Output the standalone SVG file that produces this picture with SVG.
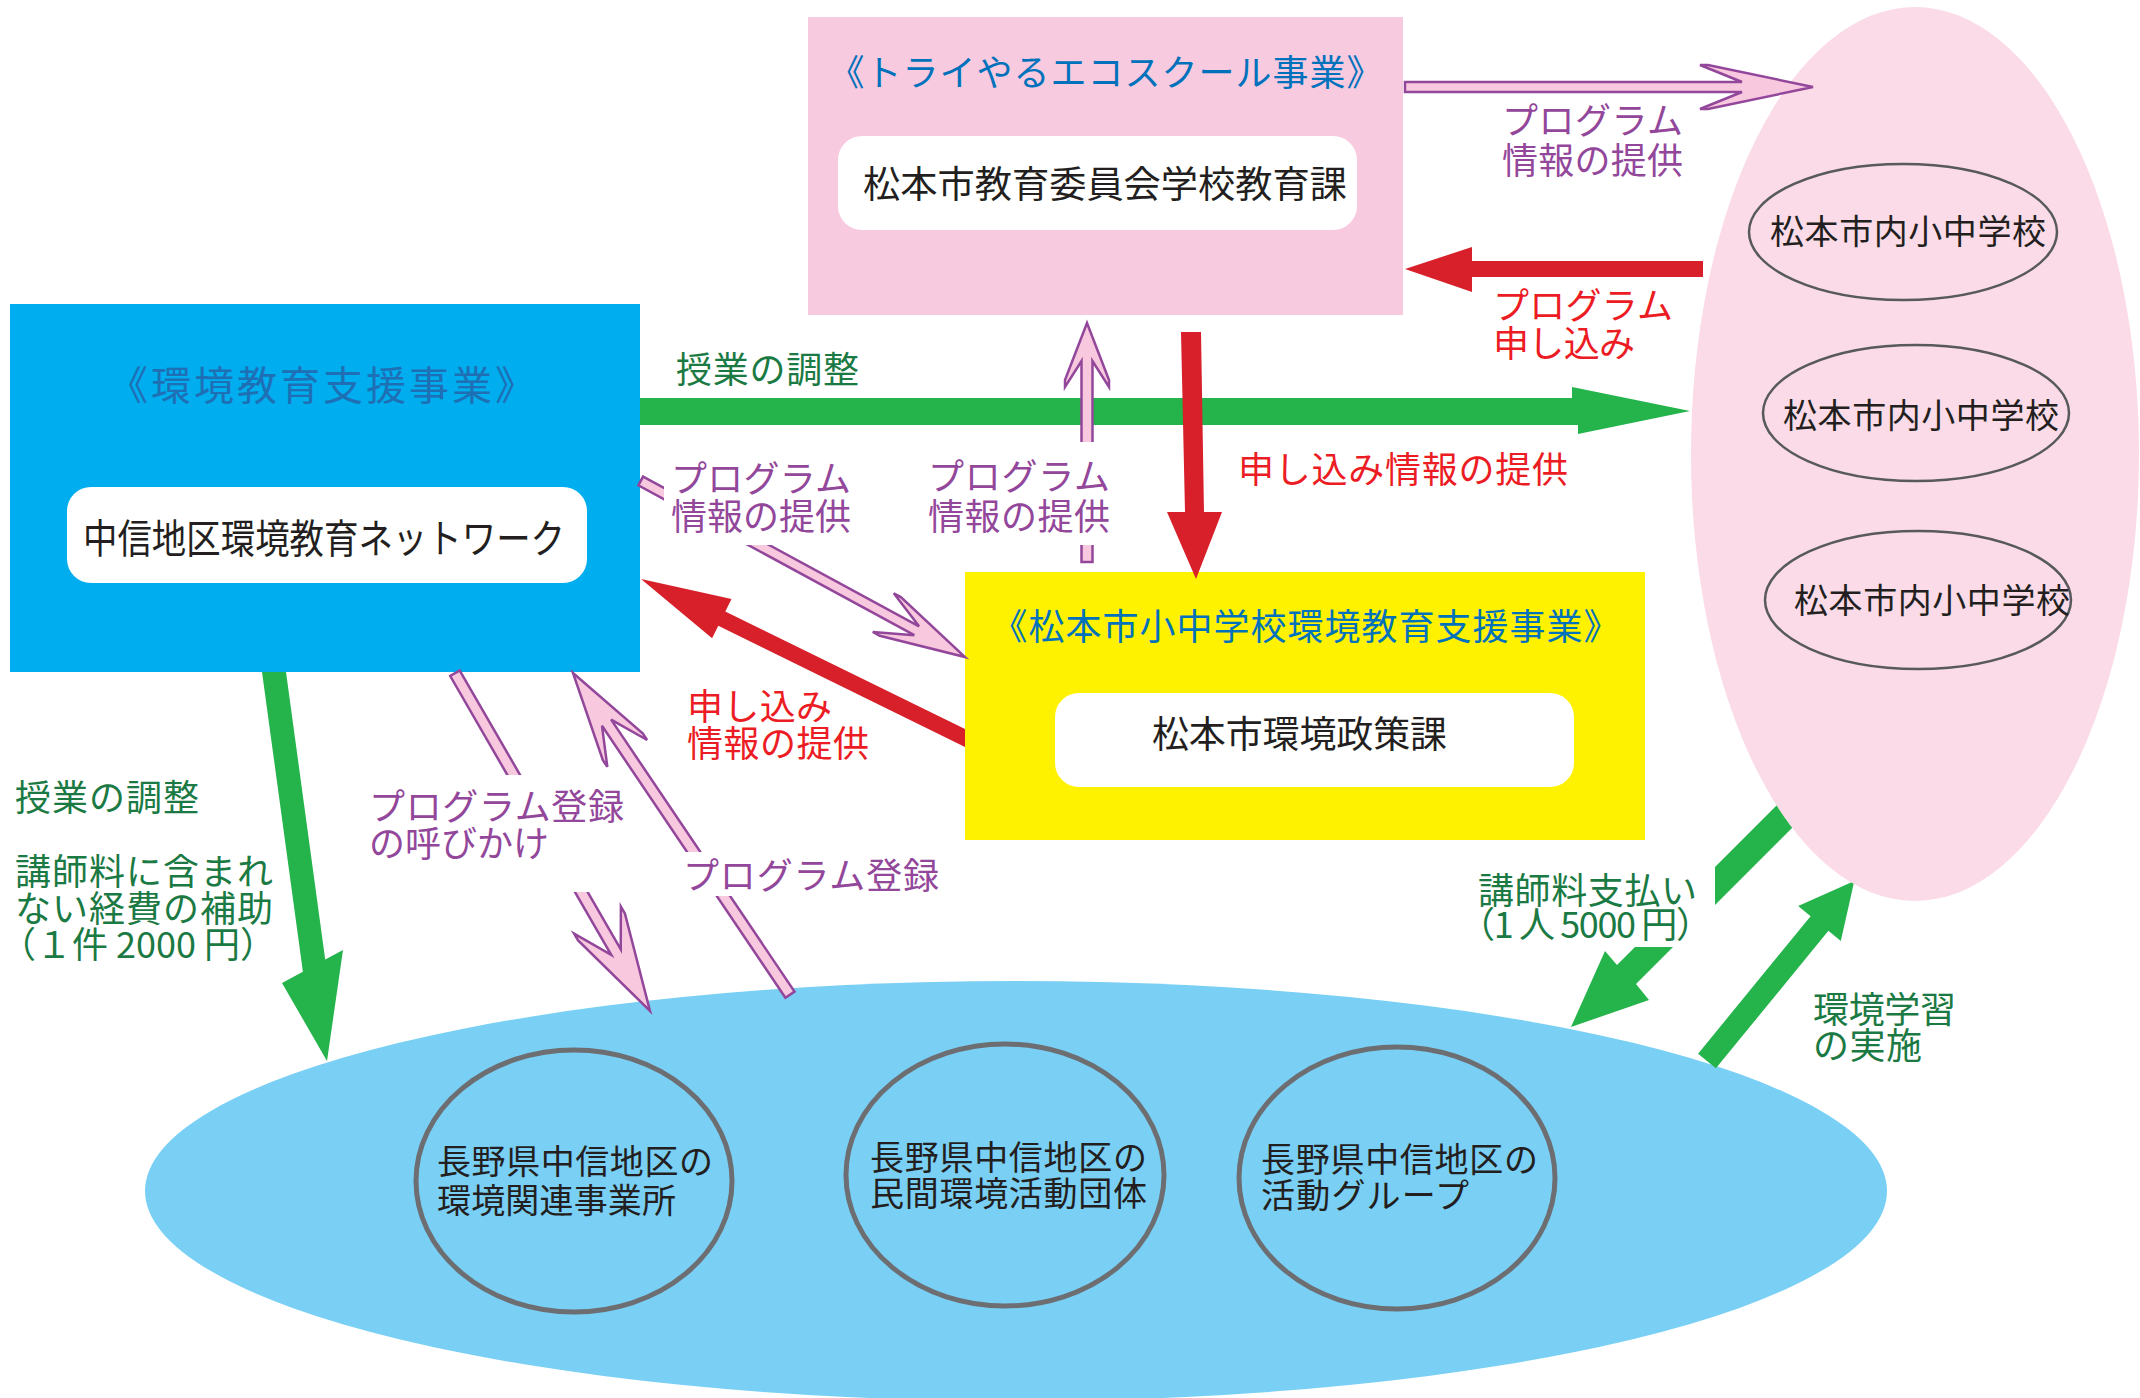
<svg xmlns="http://www.w3.org/2000/svg" width="2140" height="1398" viewBox="0 0 2140 1398">
<style>
text{font-family:'Noto Sans CJK JP','Noto Sans CJK SC',sans-serif;}
.node{fill:#231f20;}
.ttl{fill:#0072bc;}
.g{fill:#1b7a43;font-size:36px;}
.p{fill:#93479b;font-size:36px;}
.r{fill:#ec1c24;font-size:36px;}
.wb{fill:#ffffff;}
.pa{fill:#f8c8de;stroke:#93479b;stroke-width:2.5;stroke-linejoin:miter;}
.ga{fill:#25b34b;}
.ra{fill:#d7202a;}
.sch{fill:none;stroke:#58595b;stroke-width:2.5;}
.grp{fill:none;stroke:#6d6e71;stroke-width:5;}
</style>
<defs>
<mask id="outPink" maskUnits="userSpaceOnUse" x="0" y="0" width="2140" height="1398">
<rect x="0" y="0" width="2140" height="1398" fill="#ffffff"/>
<ellipse cx="1915" cy="454" rx="224" ry="447" fill="#000000"/>
</mask>
</defs>
<rect x="0" y="0" width="2140" height="1398" fill="#ffffff"/>

<g id="node-tryyaru">
<rect x="808" y="17" width="595" height="298" fill="#f8cadf"/>
<text class="ttl" x="1106" y="86" font-size="36" letter-spacing="1" text-anchor="middle">《トライやるエコスクール事業》</text>
<rect x="838" y="136" width="519" height="94" rx="24" fill="#ffffff"/>
<text class="node" x="863" y="198" font-size="37" textLength="484" lengthAdjust="spacingAndGlyphs">松本市教育委員会学校教育課</text>
</g>

<g id="node-kankyo">
<rect x="10" y="304" width="630" height="368" fill="#00adee"/>
<text x="323" y="400" font-size="40" letter-spacing="3" text-anchor="middle" fill="#1f6fb5">《環境教育支援事業》</text>
<rect x="67" y="487" width="520" height="96" rx="24" fill="#ffffff"/>
<text class="node" x="83" y="553" font-size="40" textLength="482" lengthAdjust="spacingAndGlyphs">中信地区環境教育ネットワーク</text>
</g>

<g id="node-matsumoto">
<rect x="965" y="572" width="680" height="268" fill="#fff200"/>
<text class="ttl" x="1306" y="640" font-size="36" letter-spacing="1" text-anchor="middle">《松本市小中学校環境教育支援事業》</text>
<rect x="1055" y="693" width="519" height="94" rx="24" fill="#ffffff"/>
<text class="node" x="1152" y="748" font-size="37" textLength="295">松本市環境政策課</text>
</g>

<g id="node-schools">
<ellipse cx="1915" cy="454" rx="224" ry="447" fill="#fadbe7"/>
<ellipse class="sch" cx="1903" cy="232" rx="154" ry="68"/>
<text class="node" x="1770" y="244" font-size="34" textLength="276">松本市内小中学校</text>
<ellipse class="sch" cx="1916" cy="413" rx="153" ry="68"/>
<text class="node" x="1783" y="428" font-size="34" textLength="276">松本市内小中学校</text>
<ellipse class="sch" cx="1918" cy="600" rx="153" ry="69"/>
<text class="node" x="1794" y="613" font-size="34" textLength="276">松本市内小中学校</text>
</g>

<g id="node-groups">
<ellipse cx="1016" cy="1191" rx="871" ry="210" fill="#7acff5"/>
<ellipse class="grp" cx="574" cy="1181" rx="158" ry="131"/>
<text class="node" font-size="34"><tspan x="437" y="1174" textLength="276">長野県中信地区の</tspan><tspan x="437" y="1213" textLength="239">環境関連事業所</tspan></text>
<ellipse class="grp" cx="1005" cy="1175" rx="159" ry="131"/>
<text class="node" font-size="34"><tspan x="870" y="1170" textLength="277">長野県中信地区の</tspan><tspan x="870" y="1206" textLength="277">民間環境活動団体</tspan></text>
<ellipse class="grp" cx="1397" cy="1178" rx="158" ry="131"/>
<text class="node" font-size="34"><tspan x="1261" y="1172" textLength="277">長野県中信地区の</tspan><tspan x="1261" y="1208" textLength="208">活動グループ</tspan></text>
</g>

<g id="connectors">
<polygon class="ga" points="640,398 1572,398 1572,387 1690,411 1578,434 1578,425 640,425"/>
<polygon class="ga" points="262,672 286,672 325.2,959.6 343,950 327,1061 282,983 302.9,971.7"/>
<polygon class="ga" mask="url(#outPink)" points="1797,785 1617,965 1605,951 1571,1027 1649,1000 1636,984 1816,804"/>
<polygon class="ga" mask="url(#outPink)" points="1698.1,1053.7 1810.6,916.2 1798.2,906.1 1854.3,880.9 1840.8,940.9 1828.4,930.8 1715.9,1068.3"/>
<polygon class="ra" points="1703,261 1472,261 1472,247 1405,269 1472,292 1472,277 1703,277"/>
<polygon class="ra" points="1181,332 1201,332 1204,512 1222,512 1196,579 1167,512 1185,512"/>
<polygon class="ra" points="965,729 725.3,611.4 731.5,598.9 641,579 712.1,638.3 718.3,625.8 965,747"/>
<path class="pa" transform="translate(1813,87)" d="M-408,-5 L-71,-5 L-113,-22 L-105,-22 L0,0 L-105,22 L-113,22 L-71,5 L-408,5 Z"/>
<path class="pa" transform="translate(1087,323) rotate(-90)" d="M-239,-5.5 L-38,-5.5 L-64,-22 L-57,-22 L0,0 L-57,22 L-64,22 L-38,5.5 L-239,5.5 Z"/>
<path class="pa" transform="translate(965,657) rotate(28.5)" d="M-369,-5 L-55,-5 L-93,-22 L-85,-22 L0,0 L-85,22 L-93,22 L-55,5 L-369,5 Z"/>
<path class="pa" transform="translate(650,1011) rotate(60)" d="M-390,-5.5 L-68,-5.5 L-105,-27 L-97,-27 L0,0 L-97,27 L-105,27 L-68,5.5 L-390,5.5 Z"/>
<path class="pa" transform="translate(573,673) rotate(-124)" d="M-388,-5.5 L-60,-5.5 L-97,-24 L-89,-24 L0,0 L-89,24 L-97,24 L-60,5.5 L-388,5.5 Z"/>
</g>

<g id="labels">
<rect class="wb" x="664" y="455" width="198" height="90"/>
<rect class="wb" x="922" y="442" width="194" height="103"/>
<rect class="wb" x="360" y="775" width="270" height="117"/>
<rect class="wb" x="676" y="852" width="268" height="44"/>
<rect class="wb" x="1456" y="867" width="259" height="80"/>

<text class="g" x="676" y="383" textLength="183">授業の調整</text>
<text class="g" x="15" y="811" textLength="184">授業の調整</text>
<text class="g"><tspan x="15" y="885" textLength="258">講師料に含まれ</tspan><tspan x="15" y="922" textLength="258">ない経費の補助</tspan><tspan x="0" y="958">（１件 2000 円）</tspan></text>
<text class="g"><tspan x="1478" y="904" textLength="219">講師料支払い</tspan><tspan x="1459" y="938" textLength="253">（1 人 5000 円）</tspan></text>
<text class="g"><tspan x="1813" y="1023" textLength="143">環境学習</tspan><tspan x="1813" y="1059" textLength="109">の実施</tspan></text>

<text class="p"><tspan x="1502" y="134" textLength="181">プログラム</tspan><tspan x="1502" y="174" textLength="181">情報の提供</tspan></text>
<text class="p"><tspan x="671" y="492" textLength="180">プログラム</tspan><tspan x="671" y="530" textLength="180">情報の提供</tspan></text>
<text class="p"><tspan x="928" y="490" textLength="182">プログラム</tspan><tspan x="928" y="530" textLength="182">情報の提供</tspan></text>
<text class="p"><tspan x="369" y="820" textLength="255">プログラム登録</tspan><tspan x="369" y="857" textLength="180">の呼びかけ</tspan></text>
<text class="p" x="683" y="889" textLength="256">プログラム登録</text>

<text class="r"><tspan x="1493" y="319" textLength="180">プログラム</tspan><tspan x="1493" y="357" textLength="142">申し込み</tspan></text>
<text class="r" x="1238" y="483" textLength="330">申し込み情報の提供</text>
<text class="r"><tspan x="687" y="720" textLength="145">申し込み</tspan><tspan x="687" y="757" textLength="182">情報の提供</tspan></text>
</g>
</svg>
